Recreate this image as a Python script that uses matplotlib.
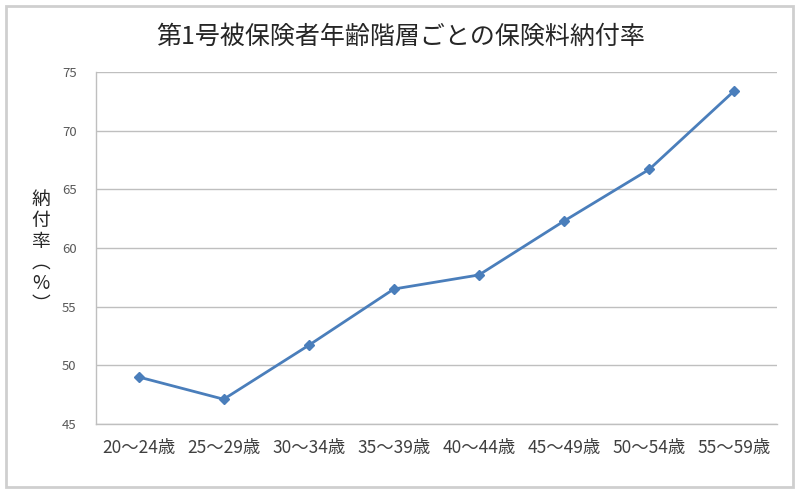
import matplotlib
matplotlib.use('Agg')
import matplotlib.pyplot as plt
from matplotlib.patches import Rectangle

plt.rcParams['font.family'] = ['Noto Sans CJK JP', 'DejaVu Sans']

# 年齢階層ごとの納付率
age_groups = ['20～24歳', '25～29歳', '30～34歳', '35～39歳',
              '40～44歳', '45～49歳', '50～54歳', '55～59歳']
rates = [49.0, 47.1, 51.7, 56.5, 57.7, 62.3, 66.7, 73.4]
y_ticks = [45, 50, 55, 60, 65, 70, 75]

fig = plt.figure(figsize=(8, 4.94), dpi=100)
ax = fig.add_axes([0.12, 0.142, 0.851, 0.712])

x = list(range(len(age_groups)))
ax.plot(x, rates, color='#4A7EBB', linewidth=2.0, marker='D', markersize=5,
        markerfacecolor='#4A7EBB', markeredgecolor='#4A7EBB')

ax.set_xlim(-0.5, len(age_groups) - 0.5)
ax.set_ylim(45, 75)
ax.set_yticks(y_ticks)
ax.set_xticks(x)
ax.set_xticklabels(age_groups, fontsize=12.5, color='#404040')
ax.tick_params(axis='y', labelsize=9.5, labelcolor='#595959', length=0, pad=14)
ax.tick_params(axis='x', length=0, pad=11)

ax.grid(axis='y', color='#BFBFBF', linewidth=1)
ax.set_axisbelow(True)
for side in ['top', 'right']:
    ax.spines[side].set_visible(False)
for side in ['left', 'bottom']:
    ax.spines[side].set_color('#BFBFBF')
    ax.spines[side].set_linewidth(1)

fig.text(0.501, 0.925, '第1号被保険者年齢階層ごとの保険料納付率',
         ha='center', va='center', fontsize=18, color='#262626')

fig.text(0.051, 0.49, '\n'.join(['納', '付', '率', '︵', '%', '︶']),
         ha='center', va='center', fontsize=13.5, color='#262626', linespacing=1.0)

# 外枠
fig.patches.append(Rectangle((6 / 800, 1 - 487 / 494), 787 / 800, 481 / 494,
                             transform=fig.transFigure, fill=False,
                             edgecolor='#CFCFCF', linewidth=2))

fig.savefig('out.png', dpi=100, facecolor='white')
